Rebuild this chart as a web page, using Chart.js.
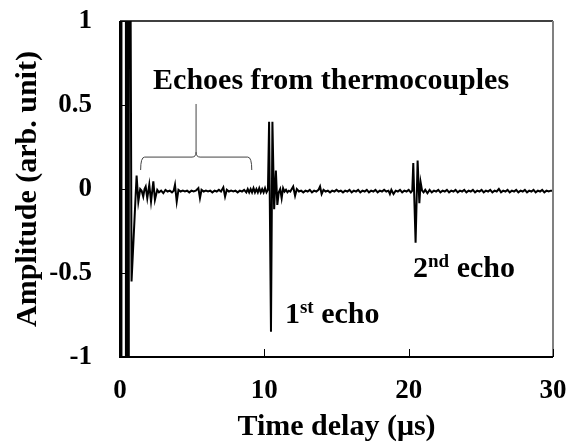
<!DOCTYPE html>
<html>
<head>
<meta charset="utf-8">
<script src="https://cdn.jsdelivr.net/npm/chart.js@4.4.0/dist/chart.umd.min.js"></script>
<style>
    html, body { margin: 0; padding: 0; background: #fff; }
    #wrap { width: 578px; height: 448px; }
</style>
</head>
<body>
<div id="wrap"><canvas id="echo-chart" width="578" height="448"></canvas></div>
<script>
"use strict";

// tick labels
var xTicks = [0, 10, 20, 30];
var yTicks = [-1, -0.5, 0, 0.5, 1];

// waveform: time delay (us) and amplitude (arb. unit)
var timeUs = [
    0, 0.07, 0.1, 0.38, 0.41, 0.45, 0.48, 0.58, 0.61, 0.66, 0.8,
    1.15, 1.27, 1.4, 1.5, 1.61, 1.7, 1.78, 1.89, 2.03, 2.15, 2.31, 2.42, 2.58, 2.7, 2.85,
    3.0, 3.15, 3.3, 3.45, 3.6, 3.72, 3.81, 3.93, 4.05, 4.2, 4.35, 4.5, 4.65, 4.8, 4.95,
    5.1, 5.25, 5.43, 5.54, 5.65, 5.8, 5.95, 6.1, 6.25, 6.4, 6.55, 6.7, 6.85,
    7.0, 7.16, 7.28, 7.4, 7.55, 7.7, 7.85, 8.0, 8.15, 8.3, 8.45, 8.6, 8.75, 8.85, 8.95,
    9.05, 9.15, 9.25, 9.35, 9.45, 9.55, 9.65, 9.75, 9.85, 9.95, 10.05, 10.15, 10.25,
    10.33, 10.46, 10.56, 10.68, 10.8, 10.9, 11.0, 11.1, 11.2, 11.3, 11.4, 11.5, 11.6, 11.7, 11.8, 11.9,
    12.0, 12.13, 12.25, 12.4, 12.55, 12.7, 12.85, 13.0, 13.15, 13.3, 13.45, 13.6, 13.75, 13.86, 13.97,
    14.1, 14.25, 14.4, 14.55, 14.7, 14.85, 15.0, 15.15, 15.3, 15.45, 15.6, 15.75, 15.9,
    16.05, 16.2, 16.35, 16.5, 16.65, 16.8, 16.95, 17.1, 17.25, 17.4, 17.55, 17.7, 17.85,
    18.0, 18.15, 18.3, 18.45, 18.6, 18.7, 18.8, 18.95, 19.1, 19.25, 19.4, 19.55, 19.7, 19.85,
    20.0, 20.15, 20.25, 20.32, 20.48, 20.62, 20.74, 20.83, 20.93, 21.03, 21.15, 21.3, 21.45, 21.6, 21.75, 21.9,
    22.05, 22.2, 22.35, 22.5, 22.65, 22.8, 22.95, 23.1, 23.25, 23.4, 23.55, 23.7, 23.85,
    24.0, 24.15, 24.3, 24.45, 24.6, 24.75, 24.9, 25.05, 25.2, 25.35, 25.5, 25.65, 25.8, 25.95,
    26.1, 26.25, 26.4, 26.55, 26.7, 26.85, 27.0, 27.15, 27.3, 27.45, 27.6, 27.75, 27.9,
    28.05, 28.2, 28.35, 28.5, 28.65, 28.8, 28.95, 29.1, 29.25, 29.4, 29.55, 29.7, 29.85, 30.0
];
var amplitude = [
    0, 3, -3, -3, 3, 3, -3, -3, 3, 3, -0.55,
    0.08, -0.075, 0.0, -0.01, -0.045, 0.0, 0.015, -0.055, 0.025, -0.075, 0.045, -0.065, -0.005, -0.02, -0.01,
    -0.025, -0.005, -0.015, -0.01, -0.02, -0.01, 0.025, -0.075, -0.005, -0.015, -0.01, -0.015, -0.01, -0.02, -0.01,
    -0.015, -0.01, 0.005, -0.055, -0.005, -0.015, -0.01, -0.015, -0.01, -0.02, -0.01, -0.015, -0.005,
    -0.015, 0.01, -0.045, -0.005, -0.015, -0.01, -0.015, -0.01, -0.02, -0.01, -0.015, -0.005, -0.02, 0.0, -0.02,
    0.0, -0.02, 0.005, -0.02, 0.0, -0.02, 0.005, -0.02, 0.0, -0.02, 0.005, -0.02, -0.005,
    0.40, -0.85, 0.40, -0.12, 0.11, -0.095, -0.02, 0.0, -0.055, 0.005, -0.015, -0.005, -0.02, -0.01, -0.015, 0.0,
    0.015, -0.04, 0.0, -0.015, -0.01, -0.02, -0.01, -0.015, -0.005, -0.02, -0.01, -0.015, -0.005, 0.015, -0.03,
    -0.005, -0.015, -0.01, -0.02, -0.01, -0.015, -0.005, -0.015, -0.01, -0.02, -0.01, -0.015, -0.005,
    -0.02, -0.01, -0.015, -0.005, -0.02, -0.01, -0.015, -0.005, -0.02, -0.01, -0.015, -0.005, -0.02,
    -0.01, -0.015, -0.005, -0.015, -0.01, -0.03, -0.005, -0.03, -0.01, -0.015, -0.005, -0.02, -0.01, -0.015,
    -0.005, -0.02, -0.01, 0.155, -0.32, 0.17, -0.085, 0.04, -0.01, -0.02, -0.005, -0.025, -0.005, -0.02, -0.01, -0.015,
    -0.005, -0.02, -0.01, -0.015, -0.005, -0.02, -0.01, -0.015, -0.005, -0.02, -0.01, -0.015, -0.005,
    -0.02, -0.01, -0.015, -0.005, -0.02, -0.01, -0.015, -0.005, -0.02, -0.01, -0.015, -0.005, -0.02, -0.01,
    -0.015, 0.0, -0.02, -0.01, -0.015, -0.005, -0.02, -0.01, -0.015, -0.005, -0.02, -0.01, -0.015,
    -0.005, -0.02, -0.01, -0.015, -0.005, -0.02, -0.01, -0.015, -0.005, -0.02, -0.01, -0.015, -0.01, -0.01
];

var points = timeUs.map(function (t, i) {
    return { x: t, y: amplitude[i] };
});

var serif = '"Liberation Serif", "Times New Roman", serif';

// Frame, inside tick marks and the text notes
var framePlugin = {
    id: "frameAndNotes",
    afterDraw: function (chart) {
        var ctx = chart.ctx;
        var a = chart.chartArea;
        var xs = chart.scales.x;
        var ys = chart.scales.y;
        ctx.save();

        // box
        ctx.lineCap = "butt";
        ctx.strokeStyle = "#000";
        ctx.lineWidth = 1.5;
        ctx.beginPath();
        ctx.moveTo(a.left, a.top);
        ctx.lineTo(a.right, a.top);
        ctx.stroke();
        ctx.strokeStyle = "#808080";
        ctx.lineWidth = 2;
        ctx.beginPath();
        ctx.moveTo(a.right, a.top);
        ctx.lineTo(a.right, a.bottom);
        ctx.stroke();
        ctx.strokeStyle = "#000";
        ctx.beginPath();
        ctx.moveTo(a.left, a.top);
        ctx.lineTo(a.left, a.bottom);
        ctx.lineTo(a.right, a.bottom);
        ctx.stroke();

        // inside ticks
        ctx.lineWidth = 1;
        ctx.beginPath();
        yTicks.forEach(function (v) {
            var py = Math.round(ys.getPixelForValue(v)) + 0.5;
            ctx.moveTo(a.left, py);
            ctx.lineTo(a.left + 7, py);
        });
        xTicks.forEach(function (v) {
            var px = Math.round(xs.getPixelForValue(v)) + 0.5;
            ctx.moveTo(px, a.bottom);
            ctx.lineTo(px, a.bottom - 8);
        });
        ctx.stroke();

        // bracket over the thermocouple echoes
        var bl = xs.getPixelForValue(1.43), br = xs.getPixelForValue(9.13);
        var bc = xs.getPixelForValue(5.27);
        var yEnd = ys.getPixelForValue(0.113), yBar = ys.getPixelForValue(0.19);
        var yTip = ys.getPixelForValue(0.22), yStem = ys.getPixelForValue(0.506);
        ctx.strokeStyle = "#444";
        ctx.lineWidth = 1;
        ctx.beginPath();
        ctx.moveTo(bl, yEnd);
        ctx.quadraticCurveTo(bl, yBar, bl + 4, yBar);
        ctx.lineTo(bc - 4, yBar);
        ctx.quadraticCurveTo(bc, yBar, bc, yTip);
        ctx.quadraticCurveTo(bc, yBar, bc + 4, yBar);
        ctx.lineTo(br - 4, yBar);
        ctx.quadraticCurveTo(br, yBar, br, yEnd);
        ctx.moveTo(bc, yTip);
        ctx.lineTo(bc, yStem);
        ctx.stroke();

        // labels
        ctx.fillStyle = "#000";
        ctx.textBaseline = "alphabetic";
        ctx.textAlign = "left";
        ctx.font = "bold 30px " + serif;
        ctx.fillText("Echoes from thermocouples", xs.getPixelForValue(2.29), ys.getPixelForValue(0.595));

        function supLabel(num, sup, rest, t, amp) {
            var x = xs.getPixelForValue(t);
            var y = ys.getPixelForValue(amp);
            ctx.font = "bold 30px " + serif;
            ctx.fillText(num, x, y);
            x += ctx.measureText(num).width;
            ctx.font = "bold 19px " + serif;
            ctx.fillText(sup, x, y - 10);
            x += ctx.measureText(sup).width;
            ctx.font = "bold 30px " + serif;
            ctx.fillText(rest, x, y);
        }
        supLabel("1", "st", " echo", 11.43, -0.80);
        supLabel("2", "nd", " echo", 20.3, -0.524);

        ctx.restore();
    }
};

var ctx1 = document.getElementById("echo-chart").getContext("2d");
var myChart1 = new Chart(ctx1, {
    type: "line",
    data: {
        datasets: [{
            label: "Amplitude",
            data: points,
            borderColor: "#000",
            borderWidth: 2,
            pointRadius: 0,
            tension: 0,
            fill: false,
            clip: 0
        }]
    },
    options: {
        responsive: false,
        animation: false,
        events: [],
        layout: { padding: { top: 21, right: 25, left: 0, bottom: 0 } },
        plugins: {
            legend: { display: false },
            tooltip: { enabled: false }
        },
        scales: {
            x: {
                type: "linear",
                min: 0,
                max: 30,
                afterBuildTicks: function (scale) {
                    scale.ticks = xTicks.map(function (v) { return { value: v }; });
                },
                afterFit: function (scale) {
                    scale.height = 91;
                    scale.paddingLeft = 0;
                    scale.paddingRight = 0;
                },
                grid: { display: false, drawTicks: false },
                border: { display: false },
                ticks: {
                    color: "#000",
                    padding: 18,
                    maxRotation: 0,
                    callback: function (v) { return String(v); },
                    font: { family: serif, size: 27, weight: "bold" }
                },
                title: {
                    display: true,
                    text: "Time delay (\u03bcs)",
                    color: "#000",
                    padding: { top: 0, bottom: 3 },
                    font: { family: serif, size: 30, weight: "bold" }
                }
            },
            y: {
                type: "linear",
                min: -1,
                max: 1,
                afterBuildTicks: function (scale) {
                    scale.ticks = yTicks.map(function (v) { return { value: v }; });
                },
                afterFit: function (scale) {
                    scale.width = 120;
                    scale.paddingTop = 0;
                    scale.paddingBottom = 0;
                },
                grid: { display: false, drawTicks: false },
                border: { display: false },
                ticks: {
                    color: "#000",
                    padding: 28,
                    callback: function (v) { return String(v); },
                    font: { family: serif, size: 27, weight: "bold" }
                },
                title: {
                    display: true,
                    text: "Amplitude (arb. unit)",
                    color: "#000",
                    padding: { top: 10, bottom: 0 },
                    font: { family: serif, size: 30, weight: "bold" }
                }
            }
        }
    },
    plugins: [framePlugin]
});
</script>
</body>
</html>
